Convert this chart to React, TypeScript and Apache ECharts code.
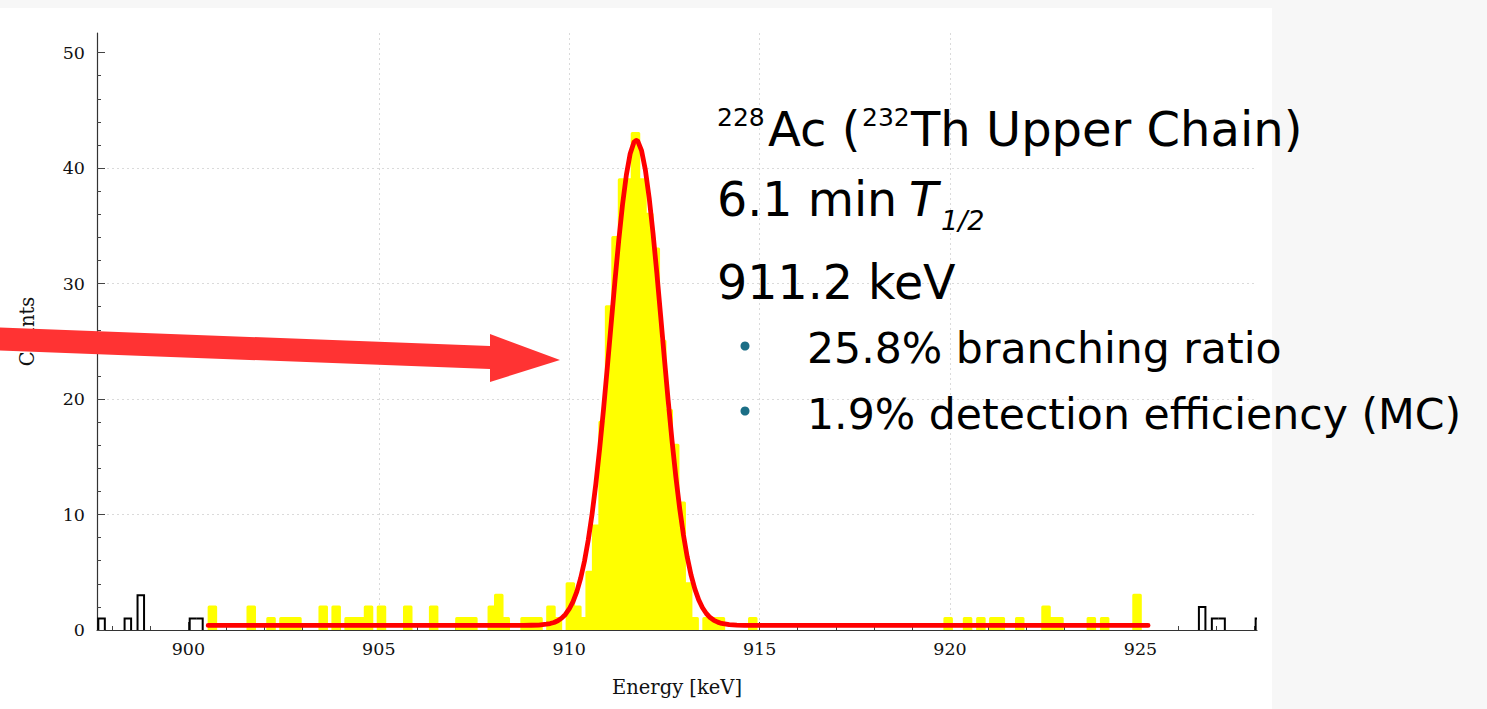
import React, { useEffect, useRef } from "react";
import * as echarts from "echarts";

// ---- axis ranges and ticks ----
const X_MIN = 897.6;
const X_MAX = 928.06;
const Y_MIN = 0;
const Y_MAX = 51.7;
const BIN_WIDTH = 0.171; // keV per histogram bin

const xMajorTicks = [900, 905, 910, 915, 920, 925];
const xMinorTicks = [898, 899, 901, 902, 903, 904, 906, 907, 908, 909, 911, 912, 913, 914, 916, 917, 918, 919, 921, 922, 923, 924, 926, 927, 928];
const yMajorTicks = [0, 10, 20, 30, 40, 50];
const yMinorTicks = [2, 4, 6, 8, 12, 14, 16, 18, 22, 24, 26, 28, 32, 34, 36, 38, 42, 44, 46, 48];

// ---- histogram inside the fit window (yellow) ----
const fitBinCenters = [
  900.63, 901.65, 902.17, 902.51, 902.68, 902.85, 903.54, 903.88, 904.22, 904.39,
  904.56, 904.73, 905.07, 905.76, 906.44, 907.13, 907.30, 907.47, 907.98, 908.15,
  908.32, 908.84, 909.01, 909.18, 909.52, 909.69, 910.03, 910.20, 910.38, 910.55,
  910.72, 910.89, 911.06, 911.23, 911.40, 911.57, 911.74, 911.91, 912.09, 912.26,
  912.43, 912.60, 912.77, 912.94, 913.11, 913.28, 913.62, 913.79, 913.97, 914.82,
  919.95, 920.46, 920.81, 921.15, 921.32, 921.83, 922.52, 922.69, 922.86, 923.71,
  924.06, 924.91,
];
const fitBinCounts = [
  2, 2, 1, 1, 1, 1, 2, 2, 1, 1,
  1, 2, 2, 2, 2, 1, 1, 1, 2, 3,
  1, 1, 1, 1, 2, 1, 4, 2, 1, 5,
  9, 18, 28, 34, 39, 39, 43, 39, 36, 33,
  25, 19, 16, 11, 4, 1, 1, 1, 1, 1,
  1, 1, 1, 1, 1, 1, 2, 1, 1, 1,
  1, 3,
];

// ---- histogram outside the fit window (black outline) ----
const outBinCenters = [897.72, 898.41, 898.75, 900.12, 900.29, 926.62, 926.96, 927.13, 928.11];
const outBinCounts = [1, 1, 3, 1, 1, 2, 1, 1, 1];

// ---- fitted curve (red) ----
const fitCurveEnergy = [
  900.52, 908.6, 908.8, 909.0, 909.2, 909.4, 909.5, 909.6, 909.7, 909.8,
  909.9, 910.0, 910.1, 910.2, 910.3, 910.4, 910.5, 910.6, 910.7, 910.8,
  910.9, 911.0, 911.1, 911.2, 911.3, 911.4, 911.5, 911.6, 911.7, 911.76,
  911.8, 911.9, 912.0, 912.1, 912.2, 912.3, 912.4, 912.5, 912.6, 912.7,
  912.8, 912.9, 913.0, 913.1, 913.2, 913.3, 913.4, 913.5, 913.6, 913.7,
  913.8, 913.9, 914.0, 914.2, 914.4, 914.6, 925.2,
];
const fitCurveCounts = [
  0.4, 0.4, 0.4, 0.41, 0.43, 0.5, 0.56, 0.65, 0.8, 1.03,
  1.35, 1.82, 2.46, 3.33, 4.48, 5.95, 7.8, 10.04, 12.68, 15.73,
  19.1, 22.73, 26.48, 30.2, 33.72, 36.85, 39.4, 41.24, 42.24, 42.4,
  42.33, 41.51, 39.83, 37.41, 34.38, 30.93, 27.23, 23.47, 19.81, 16.37,
  13.26, 10.53, 8.21, 6.29, 4.75, 3.54, 2.61, 1.93, 1.43, 1.08,
  0.84, 0.68, 0.57, 0.46, 0.42, 0.4, 0.4,
];

// ---- annotation texts ----
const titleSup1 = "228";
const titleMain1 = "Ac (";
const titleSup2 = "232";
const titleMain2 = "Th Upper Chain)";
const halfLifeText = "6.1 min";
const halfLifeSymbol = "T";
const halfLifeSub = "1/2";
const energyText = "911.2 keV";
const bulletTexts = ["25.8% branching ratio", "1.9% detection efficiency (MC)"];

const SANS = '"DejaVu Sans"';
const SERIF = '"DejaVu Serif"';

export default function App() {
  const ref = useRef<HTMLDivElement>(null);

  useEffect(() => {
    if (!ref.current) return;
    const chart = echarts.init(ref.current, undefined, { renderer: "svg" });

    const tickLabelStyle = { color: "#111", fontFamily: SERIF, fontSize: 17.5 };
    const nameStyle = { color: "#111", fontFamily: SERIF, fontSize: 19.5 };
    const gridLine = { show: true, showMinLine: false, showMaxLine: false, lineStyle: { color: "#dadada", type: [2, 3], width: 1 } };

    const option: any = {
      animation: false,
      grid: { left: 97, right: 230, top: 33, bottom: 79, containLabel: false },
      xAxis: [
        {
          type: "value",
          min: X_MIN,
          max: X_MAX,
          splitNumber: 6,
          position: "bottom",
          name: "Energy [keV]",
          nameLocation: "middle",
          nameGap: 47,
          nameTextStyle: nameStyle,
          axisLine: { show: true, onZero: false, lineStyle: { color: "#333", width: 1.2 } },
          axisTick: { show: true, inside: true, length: 8, customValues: xMajorTicks, lineStyle: { color: "#444" } },
          axisLabel: { show: true, customValues: xMajorTicks, margin: 10, ...tickLabelStyle, formatter: (v: number) => String(v) },
          splitLine: gridLine,
          minorTick: { show: false },
        },
        {
          type: "value",
          min: X_MIN,
          max: X_MAX,
          position: "bottom",
          axisLine: { show: false },
          axisTick: { show: true, inside: true, length: 4, customValues: xMinorTicks, lineStyle: { color: "#444" } },
          axisLabel: { show: false },
          splitLine: { show: false },
        },
      ],
      yAxis: [
        {
          type: "value",
          min: Y_MIN,
          max: Y_MAX,
          interval: 10,
          position: "left",
          name: "Counts",
          nameLocation: "middle",
          nameRotate: 90,
          nameGap: 60,
          nameTextStyle: nameStyle,
          axisLine: { show: true, onZero: false, lineStyle: { color: "#333", width: 1.2 } },
          axisTick: { show: true, inside: true, length: 8, customValues: yMajorTicks, lineStyle: { color: "#444" } },
          axisLabel: { show: true, customValues: yMajorTicks, margin: 12, ...tickLabelStyle, formatter: (v: number) => String(v) },
          splitLine: gridLine,
        },
        {
          type: "value",
          min: Y_MIN,
          max: Y_MAX,
          position: "left",
          axisLine: { show: false },
          axisTick: { show: true, inside: true, length: 4, customValues: yMinorTicks, lineStyle: { color: "#444" } },
          axisLabel: { show: false },
          splitLine: { show: false },
        },
      ],
      series: [
        {
          type: "custom",
          name: "fit window",
          xAxisIndex: 0,
          yAxisIndex: 0,
          clip: true,
          z: 2,
          encode: { x: 0, y: 1 },
          data: fitBinCenters.map((c, i) => [c, fitBinCounts[i]]),
          renderItem: (params: any, api: any) => {
            const c = api.value(0);
            const n = api.value(1);
            const p0 = api.coord([c - BIN_WIDTH / 2, n]);
            const p1 = api.coord([c + BIN_WIDTH / 2, 0]);
            return {
              type: "rect",
              shape: { x: p0[0], y: p0[1], width: p1[0] - p0[0], height: p1[1] - p0[1] },
              style: { fill: "#ffff00", stroke: "#ffff00", lineWidth: 3, lineJoin: "round" },
            };
          },
        },
        {
          type: "custom",
          name: "outside",
          xAxisIndex: 0,
          yAxisIndex: 0,
          clip: true,
          z: 3,
          encode: { x: 0, y: 1 },
          data: outBinCenters.map((c, i) => [c, outBinCounts[i]]),
          renderItem: (params: any, api: any) => {
            const i = params.dataIndex;
            const c = api.value(0);
            const n = api.value(1);
            const prevAdj = i > 0 && Math.abs(c - outBinCenters[i - 1] - BIN_WIDTH) < 0.03;
            const nextAdj = i < outBinCenters.length - 1 && Math.abs(outBinCenters[i + 1] - c - BIN_WIDTH) < 0.03;
            const left = c - BIN_WIDTH / 2;
            const right = c + BIN_WIDTH / 2;
            const base = prevAdj ? outBinCounts[i - 1] : 0;
            const pts = [api.coord([left, base]), api.coord([left, n]), api.coord([right, n])];
            if (!nextAdj) pts.push(api.coord([right, 0]));
            return {
              type: "polyline",
              shape: { points: pts },
              style: { stroke: "#000", lineWidth: 2, fill: "none" },
            };
          },
        },
        {
          type: "line",
          name: "fit",
          xAxisIndex: 0,
          yAxisIndex: 0,
          z: 5,
          symbol: "none",
          smooth: false,
          data: fitCurveEnergy.map((e, i) => [e, fitCurveCounts[i]]),
          lineStyle: { color: "#ff0000", width: 4.8, cap: "round", join: "round" },
        },
      ],
      graphic: [
        // title line
        { type: "text", x: 717, y: 117.6, z: 50, style: { text: titleSup1, font: `25px ${SANS}`, fill: "#000", verticalAlign: "middle" } },
        { type: "text", x: 768, y: 128.7, z: 50, style: { text: titleMain1, font: `48px ${SANS}`, fill: "#000", verticalAlign: "middle" } },
        { type: "text", x: 862, y: 117.6, z: 50, style: { text: titleSup2, font: `25px ${SANS}`, fill: "#000", verticalAlign: "middle" } },
        { type: "text", x: 911, y: 128.7, z: 50, style: { text: titleMain2, font: `48px ${SANS}`, fill: "#000", verticalAlign: "middle" } },
        // half-life line
        { type: "text", x: 717, y: 199, z: 50, style: { text: halfLifeText, font: `47.5px ${SANS}`, fill: "#000", verticalAlign: "middle" } },
        { type: "text", x: 909, y: 199, z: 50, style: { text: halfLifeSymbol, font: `italic 47.5px ${SANS}`, fill: "#000", verticalAlign: "middle" } },
        { type: "text", x: 941, y: 220, z: 50, style: { text: halfLifeSub, font: `italic 27px ${SANS}`, fill: "#000", verticalAlign: "middle" } },
        // energy line
        { type: "text", x: 717, y: 282, z: 50, style: { text: energyText, font: `47.5px ${SANS}`, fill: "#000", verticalAlign: "middle" } },
        // bullets
        { type: "circle", z: 50, shape: { cx: 745, cy: 346, r: 4.5 }, style: { fill: "#1b6e86" } },
        { type: "text", x: 807, y: 347.5, z: 50, style: { text: bulletTexts[0], font: `42.6px ${SANS}`, fill: "#000", verticalAlign: "middle" } },
        { type: "circle", z: 50, shape: { cx: 745, cy: 411, r: 4.5 }, style: { fill: "#1b6e86" } },
        { type: "text", x: 807, y: 413.5, z: 50, style: { text: bulletTexts[1], font: `42.6px ${SANS}`, fill: "#000", verticalAlign: "middle" } },
        // arrow
        {
          type: "polygon",
          z: 100,
          shape: { points: [[0, 327.5], [490, 346], [490, 334], [560, 360], [490, 382], [490, 369], [0, 350.5]] },
          style: { fill: "#ff3333" },
        },
      ],
    };

    chart.setOption(option);
    return () => chart.dispose();
  }, []);

  return (
    <div style={{ position: "fixed", left: 0, top: 0, width: 1487, height: 709, background: "#f7f7f7", overflow: "hidden" }}>
      <div style={{ position: "absolute", left: 0, top: 8, width: 1272, height: 701, background: "#ffffff" }} />
      <div ref={ref} style={{ position: "absolute", left: 0, top: 0, width: 1487, height: 709 }} />
    </div>
  );
}
